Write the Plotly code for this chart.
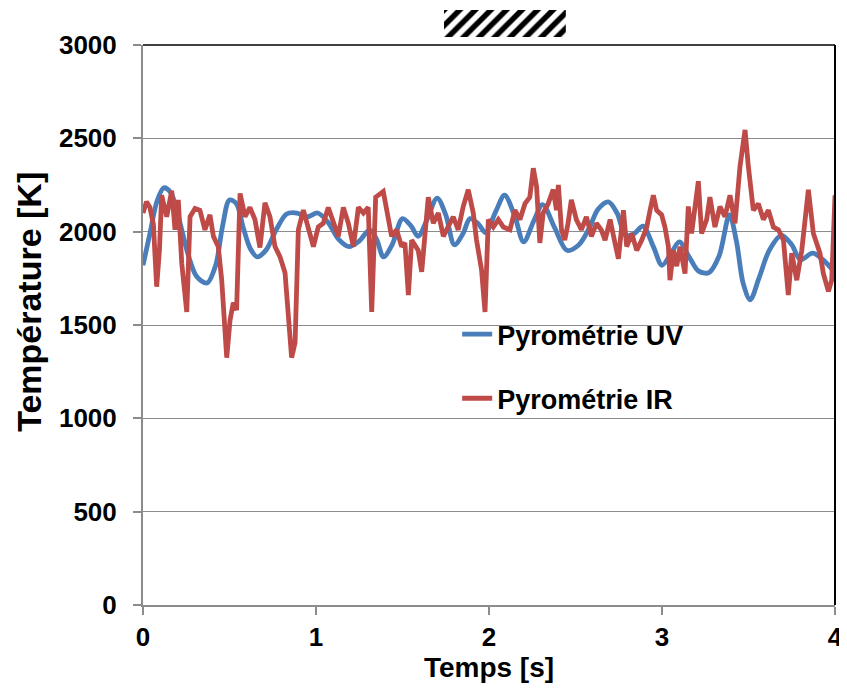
import plotly.graph_objects as go

# Pyrometrie UV (smooth signal)
uv_time = [0.00, 0.04, 0.08, 0.12, 0.16, 0.21, 0.26, 0.31, 0.37, 0.42, 0.46, 0.50,
           0.54, 0.58, 0.62, 0.66, 0.71, 0.77, 0.83, 0.89, 0.95, 1.01, 1.07, 1.13,
           1.19, 1.25, 1.31, 1.35, 1.39, 1.44, 1.50, 1.55, 1.59, 1.64, 1.70, 1.75,
           1.80, 1.85, 1.89, 1.94, 1.98, 2.04, 2.09, 2.15, 2.20, 2.26, 2.31, 2.38,
           2.45, 2.52, 2.58, 2.63, 2.69, 2.74, 2.79, 2.84, 2.89, 2.95, 3.00, 3.05,
           3.10, 3.16, 3.21, 3.27, 3.33, 3.39, 3.43, 3.47, 3.51, 3.56, 3.62, 3.69,
           3.75, 3.80, 3.87, 3.93, 4.00]
uv_temp = [1820, 1990, 2160, 2235, 2210, 2060, 1880, 1760, 1725, 1820, 2030, 2170,
           2150, 2020, 1910, 1865, 1900, 2010, 2095, 2100, 2080, 2100, 2050, 1960,
           1920, 1950, 2010, 1960, 1865, 1930, 2070, 2030, 1975, 2060, 2180, 2090,
           1930, 1990, 2070, 2040, 1995, 2110, 2195, 2080, 1945, 2060, 2145, 2020,
           1900, 1930, 2020, 2120, 2160, 2100, 1980, 1990, 2030, 1920, 1820, 1880,
           1945, 1860, 1790, 1780, 1870, 2090, 1950, 1720, 1635, 1750, 1900, 1980,
           1930, 1850, 1885, 1850, 1780]

# Pyrometrie IR (noisy signal)
ir_time = [0.000, 0.020, 0.040, 0.060, 0.079, 0.095, 0.108, 0.137, 0.166, 0.185,
           0.204, 0.224, 0.253, 0.272, 0.301, 0.329, 0.358, 0.387, 0.407, 0.435,
           0.455, 0.484, 0.503, 0.522, 0.541, 0.561, 0.590, 0.618, 0.647, 0.676,
           0.705, 0.734, 0.763, 0.792, 0.821, 0.840, 0.859, 0.879, 0.898, 0.927,
           0.956, 0.985, 1.013, 1.042, 1.071, 1.100, 1.129, 1.158, 1.187, 1.216,
           1.245, 1.274, 1.302, 1.322, 1.345, 1.389, 1.418, 1.437, 1.466, 1.495,
           1.514, 1.534, 1.553, 1.572, 1.591, 1.611, 1.630, 1.649, 1.678, 1.707,
           1.736, 1.764, 1.793, 1.822, 1.851, 1.880, 1.909, 1.928, 1.957, 1.977,
           1.996, 2.025, 2.054, 2.083, 2.121, 2.150, 2.179, 2.208, 2.236, 2.256,
           2.275, 2.294, 2.313, 2.342, 2.371, 2.390, 2.401, 2.419, 2.438, 2.457,
           2.476, 2.505, 2.534, 2.563, 2.592, 2.621, 2.649, 2.671, 2.700, 2.728,
           2.748, 2.777, 2.796, 2.825, 2.854, 2.883, 2.912, 2.931, 2.950, 2.969,
           2.998, 3.017, 3.037, 3.046, 3.066, 3.085, 3.104, 3.133, 3.152, 3.171,
           3.191, 3.210, 3.229, 3.258, 3.277, 3.306, 3.335, 3.364, 3.393, 3.422,
           3.451, 3.480, 3.499, 3.528, 3.557, 3.586, 3.615, 3.644, 3.673, 3.702,
           3.730, 3.750, 3.779, 3.808, 3.846, 3.875, 3.913, 3.933, 3.962, 3.981,
           4.000]
ir_temp = [2100, 2160, 2130, 2040, 1705, 1900, 2195, 2080, 2220, 2010,
           2170, 1830, 1570, 2080, 2125, 2115, 2010, 2090, 1975, 1920,
           1740, 1325, 1525, 1620, 1580, 2205, 2080, 2130, 2065, 1915,
           2155, 2080, 1920, 1865, 1780, 1565, 1325, 1405, 2010, 2115,
           2010, 1920, 2025, 2045, 2130, 2045, 1975, 2130, 2045, 1920,
           2130, 2100, 2130, 1570, 2185, 2215, 2080, 1975, 2010, 1920,
           1940, 1660, 1955, 1930, 1900, 1785, 2010, 2185, 2045, 2100,
           1975, 2025, 2080, 2010, 2135, 2225, 2100, 1955, 1795, 1570,
           2065, 2025, 2065, 2025, 2010, 2115, 2065, 2150, 2185, 2340,
           2240, 1940, 2100, 2150, 2225, 2115, 2250, 2010, 1955, 2045,
           2170, 2065, 2010, 2080, 1975, 2045, 2010, 1955, 2065, 1940,
           1855, 2115, 1920, 1990, 1900, 1955, 2025, 2115, 2195, 2115,
           2090, 2025, 1920, 1740, 1900, 1815, 1920, 1775, 2135, 1990,
           2115, 2270, 1990, 2065, 2185, 2025, 2135, 2080, 2195, 2045,
           2350, 2545, 2350, 2115, 2150, 2065, 2115, 2025, 2010, 1955,
           1660, 1885, 1740, 1900, 2225, 1990, 1885, 1775, 1680, 1740,
           2195]

y_ticks = [0, 500, 1000, 1500, 2000, 2500, 3000]
x_ticks = [0, 1, 2, 3, 4]

FONT = "Liberation Sans, Arial, sans-serif"
BLUE = "#4A7EBB"
RED = "#BE4B48"
GRAY = "#8c8c8c"

fig = go.Figure()

fig.add_trace(go.Scatter(
    x=uv_time, y=uv_temp, mode="lines", name="Pyrométrie UV",
    line=dict(color=BLUE, width=4.8, shape="spline", smoothing=0.9),
    legendgroup="uv",
))
fig.add_trace(go.Scatter(
    x=ir_time, y=ir_temp, mode="lines", name="Pyrométrie IR",
    line=dict(color=RED, width=4.8),
    legendgroup="ir",
))

# hatched (redacted) box above the plot
fig.add_trace(go.Bar(
    x=[0], y=[1], width=[1], xaxis="x2", yaxis="y2", showlegend=False,
    marker=dict(color="white", line=dict(width=0),
                pattern=dict(shape="/", fgcolor="black", bgcolor="white",
                             fgopacity=1, size=11, solidity=0.5)),
    hoverinfo="skip",
))

# the page body adds an 8px offset, margins compensate for it
fig.update_layout(
    width=847, height=693,
    margin=dict(l=135, r=20, t=0, b=96),
    paper_bgcolor="white", plot_bgcolor="white",
    font=dict(family=FONT, size=26, color="black", weight="bold"),
    xaxis=dict(
        range=[0, 4], tickvals=x_ticks, showgrid=False, automargin=False,
        showline=True, linecolor=GRAY, linewidth=2,
        ticks="outside", ticklen=8, tickcolor=GRAY, tickwidth=1.5,
        zeroline=False,
        title=dict(text="Temps [s]", standoff=2,
                   font=dict(family=FONT, size=28, weight="bold")),
    ),
    yaxis=dict(
        domain=[0, 0.938], range=[0, 3000], tickvals=y_ticks, automargin=False,
        showgrid=True, gridcolor=GRAY, gridwidth=1,
        showline=True, linecolor=GRAY, linewidth=2,
        ticks="outside", ticklen=8, tickcolor=GRAY, tickwidth=1.5,
        ticklabelstandoff=11,
        zeroline=False,
    ),
    xaxis2=dict(domain=[0.435, 0.611], range=[-0.5, 0.5], visible=False,
                anchor="y2", fixedrange=True),
    yaxis2=dict(domain=[0.9514, 0.9966], range=[0, 1], visible=False,
                anchor="x2", fixedrange=True),
    legend=dict(
        x=0.454, y=0.494, xanchor="left", yanchor="top",
        bgcolor="rgba(0,0,0,0)", borderwidth=0,
        font=dict(family=FONT, size=27, color="black", weight="bold"),
        tracegroupgap=26,
    ),
    bargap=0,
)

# y axis title, placed slightly above the plot centre as in the source
fig.add_annotation(
    text="Température [K]", textangle=-90, showarrow=False,
    xref="paper", yref="paper", x=-0.165, y=0.5075,
    xanchor="center", yanchor="middle",
    font=dict(family=FONT, size=34, color="black", weight="bold"),
)

# darker frame on the top and right edges
fig.add_shape(type="line", xref="x domain", yref="y domain",
              x0=0, x1=1, y0=1, y1=1, line=dict(color="#404040", width=2))
fig.add_shape(type="line", xref="x domain", yref="y domain",
              x0=1, x1=1, y0=0, y1=1, line=dict(color="black", width=2))

fig.write_html("out.html")
